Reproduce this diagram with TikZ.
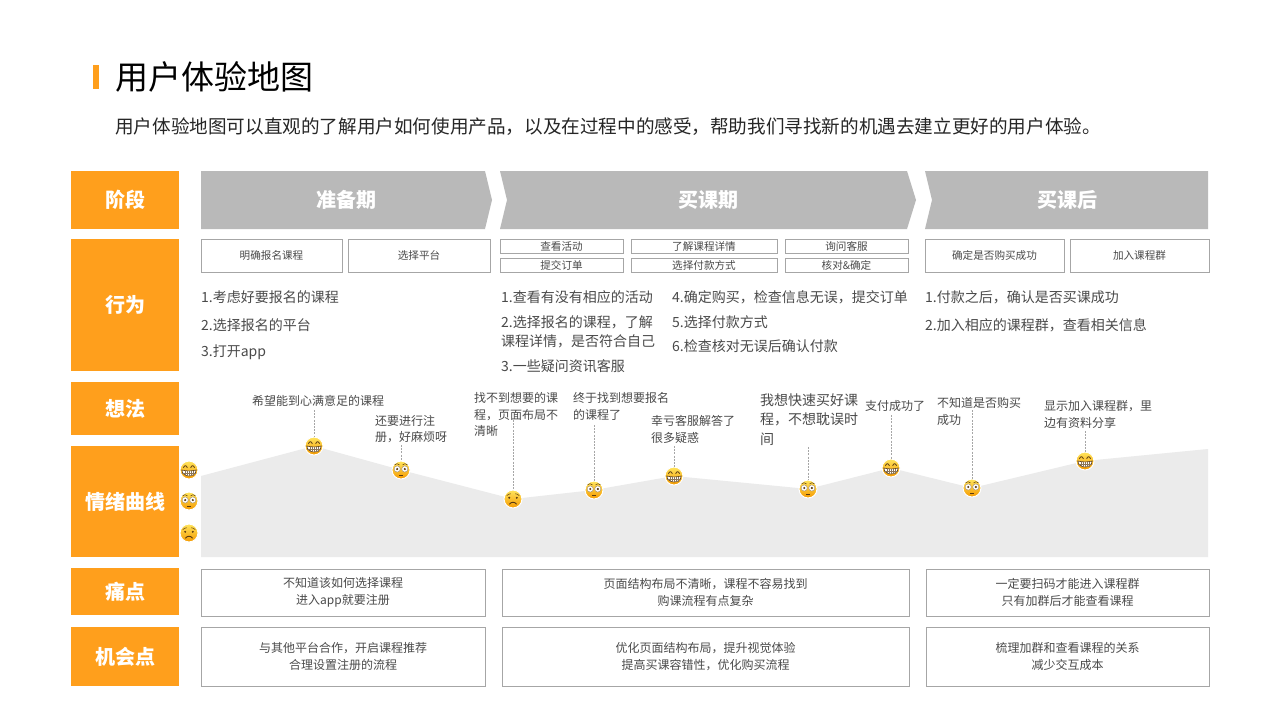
\documentclass[tikz,border=0pt]{standalone}
\usepackage{fontspec}
\setmainfont{Noto Sans CJK SC}
\definecolor{orangeM}{HTML}{FF9F1C}
\definecolor{grayM}{HTML}{B9B9B9}
\definecolor{areaM}{HTML}{EBEBEB}
\definecolor{txtM}{HTML}{4A4A4A}
\definecolor{lineM}{HTML}{A6A6A6}
\definecolor{faceT}{HTML}{FFE45C}
\definecolor{faceB}{HTML}{F59A00}
\definecolor{eyeM}{HTML}{5A3A10}
\newcommand{\fs}[2]{\fontsize{#1}{#2}\selectfont}
\tikzset{
  headbox/.style={fill=orangeM,draw=none,inner sep=0pt,text=white,font=\fs{20}{24}\bfseries},
  phasefill/.style={fill=grayM,draw=none},
  phasetxt/.style={inner sep=0pt,text=white,font=\fs{20}{24}\bfseries},
  tagbox/.style={draw=lineM,line width=0.8pt,fill=white,inner sep=0pt,text=txtM,font=\fs{10.6}{13}},
  widebox/.style={draw=lineM,line width=0.8pt,fill=white,inner sep=0pt,text=txtM,align=center,font=\fs{12}{17}},
  listtxt/.style={anchor=west,inner sep=0pt,text=txtM,font=\fs{14}{19}},
  saytxt/.style={anchor=west,inner sep=0pt,text=txtM,align=left,font=\fs{12}{16.6}},
  saybig/.style={anchor=west,inner sep=0pt,text=txtM,align=left,font=\fs{14}{19.5}},
  leader/.style={draw=lineM,line width=0.7pt,dash pattern=on 2pt off 1.2pt},
  facedisc/.style={circle,minimum size=18pt,inner sep=0pt,draw=white,line width=1pt,top color=faceT,bottom color=faceB},
}
\newcommand{\happyface}[2]{%
  \node[facedisc] (#1) at (#2) {};
  \begin{scope}[shift={(#2)}]
    \draw[eyeM,line width=0.8pt] (-5.6,-2.2) .. controls (-4.4,-5) and (-2.8,-5) .. (-1.6,-2.2);
    \draw[eyeM,line width=0.8pt] (1.6,-2.2) .. controls (2.8,-5) and (4.4,-5) .. (5.6,-2.2);
    \draw[fill=white,draw=eyeM,line width=0.6pt] (-7.2,0) .. controls (-3,1.2) and (3,1.2) .. (7.2,0) .. controls (6.5,8) and (-6.5,8) .. (-7.2,0) -- cycle;
    \draw[eyeM!70,line width=0.4pt] (-6.9,3) -- (6.9,3);
    \foreach \x in {-4,-2,0,2,4} \draw[eyeM!70,line width=0.4pt] (\x,0.8) -- (\x,6.2);
  \end{scope}}
\newcommand{\shockface}[2]{%
  \node[facedisc] (#1) at (#2) {};
  \begin{scope}[shift={(#2)}]
    \draw[eyeM,line width=0.5pt] (-6.4,-5.2) .. controls (-5,-6.6) and (-3,-6.6) .. (-1.6,-5.2);
    \draw[eyeM,line width=0.5pt] (1.6,-5.2) .. controls (3,-6.6) and (5,-6.6) .. (6.4,-5.2);
    \draw[fill=white,draw=eyeM!60,line width=0.4pt] (-3.8,-1) circle (3.1pt);
    \draw[fill=white,draw=eyeM!60,line width=0.4pt] (3.8,-1) circle (3.1pt);
    \fill[eyeM] (-3.8,-1) circle (1.2pt);
    \fill[eyeM] (3.8,-1) circle (1.2pt);
    \draw[eyeM,line width=0.9pt] (-1.8,5.2) -- (1.8,5.2);
  \end{scope}}
\newcommand{\sadface}[2]{%
  \node[facedisc] (#1) at (#2) {};
  \begin{scope}[shift={(#2)}]
    \draw[eyeM,line width=0.5pt] (-6.2,-3.4) .. controls (-5,-5) and (-3.6,-5) .. (-2.2,-5.2);
    \draw[eyeM,line width=0.5pt] (2.2,-5.2) .. controls (3.6,-5) and (5,-5) .. (6.2,-3.4);
    \fill[eyeM] (-3.8,-1.2) circle (1.1pt);
    \fill[eyeM] (3.8,-1.2) circle (1.1pt);
    \draw[eyeM,line width=0.9pt] (-3.6,5.2) .. controls (-1.6,2.6) and (1.6,2.6) .. (3.6,5.2);
  \end{scope}}
\begin{document}
\begin{tikzpicture}[x=1pt,y=-1pt]
\useasboundingbox (0,0) rectangle (1280,720);
\fill[white] (0,0) rectangle (1280,720);
% title
\fill[orangeM] (93,65) rectangle (99,89);
\node[anchor=west,inner sep=0pt,text=black,font=\fs{33}{38}] (title) at (115,77) {用户体验地图};
\node[anchor=west,inner sep=0pt,text=black!85,font=\fs{18.6}{22}] (subtitle) at (115,127) {用户体验地图可以直观的了解用户如何使用产品，以及在过程中的感受，帮助我们寻找新的机遇去建立更好的用户体验。};
% left heads
\node[headbox,minimum width=108pt,minimum height=58pt] (h1) at (125,200) {阶段};
\node[headbox,minimum width=108pt,minimum height=132pt] (h2) at (125,305) {行为};
\node[headbox,minimum width=108pt,minimum height=53pt] (h3) at (125,408.5) {想法};
\node[headbox,minimum width=108pt,minimum height=111pt] (h4) at (125,501.5) {情绪曲线};
\node[headbox,minimum width=108pt,minimum height=47pt] (h5) at (125,591.5) {痛点};
\node[headbox,minimum width=108pt,minimum height=59pt] (h6) at (125,656.5) {机会点};
% phases
\fill[phasefill] (201,171) -- (485,171) -- (492,200) -- (485,229) -- (201,229) -- cycle;
\node[phasetxt] (p1) at (346.5,200) {准备期};
\fill[phasefill] (500,171) -- (907,171) -- (916,200) -- (907,229) -- (500,229) -- (507,200) -- cycle;
\node[phasetxt] (p2) at (708.5,200) {买课期};
\fill[phasefill] (925,171) -- (1208,171) -- (1208,229) -- (925,229) -- (932,200) -- cycle;
\node[phasetxt] (p3) at (1067,200) {买课后};
% tag boxes
\node[tagbox,minimum width=141pt,minimum height=33pt] (t1) at (271.5,255.5) {明确报名课程};
\node[tagbox,minimum width=142pt,minimum height=33pt] (t2) at (419,255.5) {选择平台};
\node[tagbox,minimum width=123pt,minimum height=14.5pt] (t3) at (561.5,246.2) {查看活动};
\node[tagbox,minimum width=123pt,minimum height=14.5pt] (t4) at (561.5,265.2) {提交订单};
\node[tagbox,minimum width=146pt,minimum height=14.5pt] (t5) at (704,246.2) {了解课程详情};
\node[tagbox,minimum width=146pt,minimum height=14.5pt] (t6) at (704,265.2) {选择付款方式};
\node[tagbox,minimum width=123pt,minimum height=14.5pt] (t7) at (846.5,246.2) {询问客服};
\node[tagbox,minimum width=123pt,minimum height=14.5pt] (t8) at (846.5,265.2) {核对\&确定};
\node[tagbox,minimum width=139pt,minimum height=33pt] (t9) at (994.5,255.5) {确定是否购买成功};
\node[tagbox,minimum width=139pt,minimum height=33pt] (t10) at (1139.5,255.5) {加入课程群};
% lists
\node[listtxt] (a1) at (201,297) {1.考虑好要报名的课程};
\node[listtxt] (a2) at (201,325) {2.选择报名的平台};
\node[listtxt] (a3) at (201,352) {3.打开app};
\node[listtxt] (b1) at (501,297) {1.查看有没有相应的活动};
\node[listtxt] (b2) at (501,322) {2.选择报名的课程，了解};
\node[listtxt] (b3) at (501,341) {课程详情，是否符合自己};
\node[listtxt] (b4) at (501,366) {3.一些疑问资讯客服};
\node[listtxt] (c1) at (672,297) {4.确定购买，检查信息无误，提交订单};
\node[listtxt] (c2) at (672,322) {5.选择付款方式};
\node[listtxt] (c3) at (672,346) {6.检查核对无误后确认付款};
\node[listtxt] (d1) at (925,297) {1.付款之后，确认是否买课成功};
\node[listtxt] (d2) at (925,325) {2.加入相应的课程群，查看相关信息};
% area
\fill[areaM] (201,476) -- (314,446) -- (401,470) -- (513,499) -- (594,490) -- (674,476) -- (808,489) -- (891,468) -- (972,488) -- (1085,461) -- (1208,449) -- (1208,557) -- (201,557) -- cycle;
% thought labels
\node[saytxt] (s1) at (252,401) {希望能到心满意足的课程};
\node[saytxt] (s2) at (375,429) {还要进行注\\册，好麻烦呀};
\node[saytxt] (s3) at (474,414.5) {找不到想要的课\\程，页面布局不\\清晰};
\node[saytxt] (s4) at (573,406.5) {终于找到想要报名\\的课程了};
\node[saytxt] (s5) at (651,429.5) {幸亏客服解答了\\很多疑惑};
\node[saybig] (s6) at (760,419.5) {我想快速买好课\\程，不想耽误时\\间};
\node[saytxt] (s7) at (865,406) {支付成功了};
\node[saytxt] (s8) at (937,411.5) {不知道是否购买\\成功};
\node[saytxt] (s9) at (1044,414.5) {显示加入课程群，里\\边有资料分享};
% legend faces
\happyface{l1}{189,470}
\shockface{l2}{189,501}
\sadface{l3}{189,533}
% connector starts
\coordinate (k1) at (314,410);
\coordinate (k2) at (401,445);
\coordinate (k3) at (513,420);
\coordinate (k4) at (594,425);
\coordinate (k5) at (674,446);
\coordinate (k6) at (808,447);
\coordinate (k7) at (891,415);
\coordinate (k8) at (972,410);
\coordinate (k9) at (1085,431);
% curve faces
\happyface{e1}{314,446}
\shockface{e2}{401,470}
\sadface{e3}{513,499}
\shockface{e4}{594,490}
\happyface{e5}{674,476}
\shockface{e6}{808,489}
\happyface{e7}{891,468}
\shockface{e8}{972,488}
\happyface{e9}{1085,461}
\foreach \n in {1,...,9} \draw[leader] (k\n) -- (e\n);
% pain
\node[widebox,minimum width=284pt,minimum height=47pt] (w1) at (343,592.5) {不知道该如何选择课程\\进入app就要注册};
\node[widebox,minimum width=407pt,minimum height=47pt] (w2) at (705.5,592.5) {页面结构布局不清晰，课程不容易找到\\购课流程有点复杂};
\node[widebox,minimum width=283pt,minimum height=47pt] (w3) at (1067.5,592.5) {一定要扫码才能进入课程群\\只有加群后才能查看课程};
\node[widebox,minimum width=284pt,minimum height=59pt] (w4) at (343,656.5) {与其他平台合作，开启课程推荐\\合理设置注册的流程};
\node[widebox,minimum width=407pt,minimum height=59pt] (w5) at (705.5,656.5) {优化页面结构布局，提升视觉体验\\提高买课容错性，优化购买流程};
\node[widebox,minimum width=283pt,minimum height=59pt] (w6) at (1067.5,656.5) {梳理加群和查看课程的关系\\减少交互成本};
\end{tikzpicture}
\end{document}
